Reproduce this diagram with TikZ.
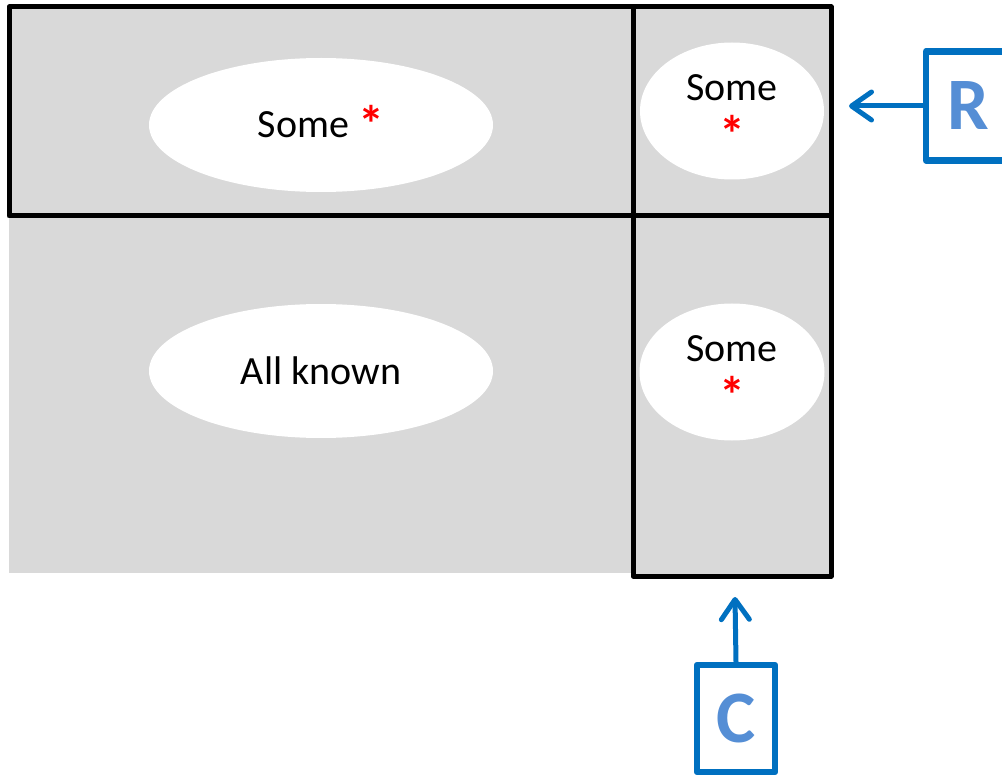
\documentclass[tikz,border=0pt]{standalone}
\usepackage{fontspec}
\setmainfont{Carlito}
\usetikzlibrary{shapes.geometric,arrows.meta}
\definecolor{cellgray}{HTML}{D9D9D9}
\definecolor{boxblue}{HTML}{0070C0}
\definecolor{letterblue}{HTML}{558ED5}
\tikzset{
  grid line/.style={line width=5pt, black, line join=round},
  blob/.style={ellipse, fill=white, draw=none, inner sep=0pt, align=center,
    font=\fontsize{40}{47}\selectfont},
  labelbox/.style={draw=boxblue, line width=6.5pt, line join=round, inner sep=0pt,
    text=letterblue, font=\fontsize{74}{80}\selectfont\bfseries},
  pointer/.style={draw=boxblue, line width=5pt, line cap=round,
    -{Straight Barb[round,length=20pt,width=28pt]}},
}
\newcommand{\redstar}{\smash{\raisebox{-5pt}{\textcolor{red}{\fontsize{52}{47}\selectfont\bfseries *}}}}
\begin{document}
\begin{tikzpicture}[x=1pt,y=-1pt]
\useasboundingbox (0,0) rectangle (1002,778);
\clip (0,0) rectangle (1002,778);
% gray background
\fill[cellgray] (9,7) rectangle (831,573);
\fill[cellgray] (633,573) rectangle (831,576);
% ellipses
\node[blob, minimum width=344pt, minimum height=134pt] (tl) at (321,125) {Some \redstar};
\node[blob, minimum width=344pt, minimum height=134pt] (bl) at (321,371) {All known};
\node[blob, minimum width=184pt, minimum height=137pt] (tr) at (732,111) {Some\\\redstar};
\node[blob, minimum width=185pt, minimum height=137pt] (br) at (732,372) {Some\\\redstar};
% grid lines
\draw[grid line] (9,7) rectangle (831,216);
\draw[grid line] (633,7) -- (633,216);
\draw[grid line] (633,216) rectangle (831,576);
% label boxes
\node[labelbox, minimum width=85pt, minimum height=109pt] (R) at (968.5,106) {R};
\node[labelbox, minimum width=78pt, minimum height=107pt] (C) at (736,718.5) {C};
\coordinate (rtip) at (849,106);
\coordinate (ctip) at (735,597);
\draw[pointer] (R.west) -- (rtip);
\draw[pointer] (C.north) -- (ctip);
\end{tikzpicture}
\end{document}
